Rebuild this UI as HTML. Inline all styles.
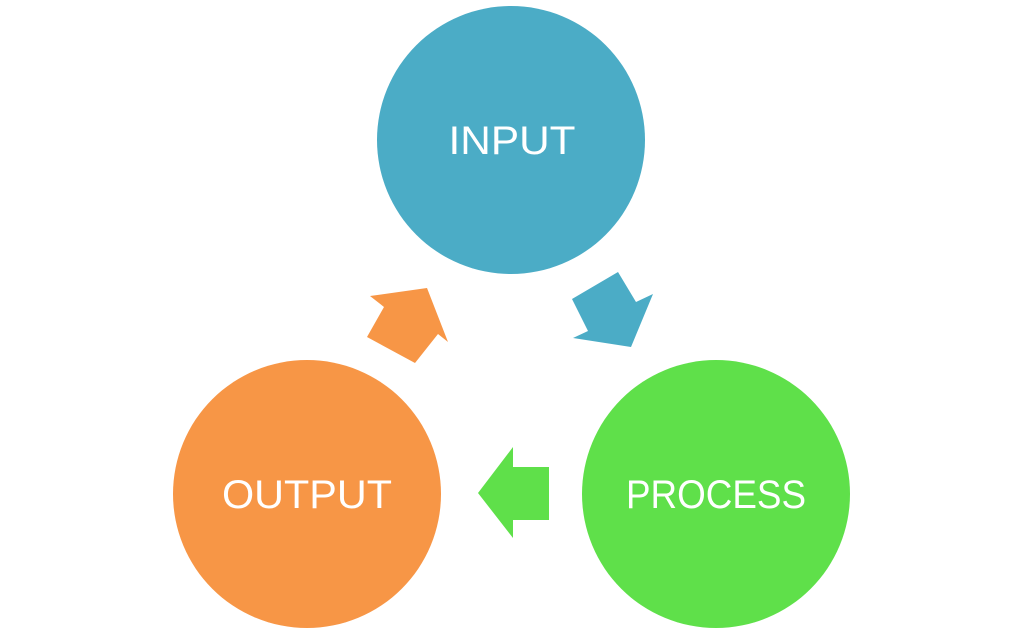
<!DOCTYPE html>
<html><head><style>
html,body{margin:0;padding:0;background:#fff;width:1024px;height:635px;overflow:hidden}
</style></head><body>
<svg width="1024" height="635" viewBox="0 0 1024 635" xmlns="http://www.w3.org/2000/svg">
<circle cx="511" cy="140" r="134" fill="#4BACC6"/>
<circle cx="716" cy="494" r="134" fill="#5FE04A"/>
<circle cx="307" cy="494" r="134" fill="#F79646"/>
<polygon points="427,288 448,342 438,334 415,363 367,337 384,307 370,296" fill="#F79646"/>
<polygon points="618,272 636,302 653,294 631,347 573,338 588,331 572,299" fill="#4BACC6"/>
<polygon points="478,493 513,447 513,467 549,467 549,520 513,520 513,538" fill="#5FE04A"/>
<g font-family="Liberation Sans, sans-serif" font-size="40" fill="#fff" text-anchor="middle">
<text x="512" y="154" textLength="127" lengthAdjust="spacingAndGlyphs">INPUT</text>
<text x="716" y="508" textLength="180" lengthAdjust="spacingAndGlyphs">PROCESS</text>
<text x="307" y="508" textLength="170" lengthAdjust="spacingAndGlyphs">OUTPUT</text>
</g>
</svg>
</body></html>
